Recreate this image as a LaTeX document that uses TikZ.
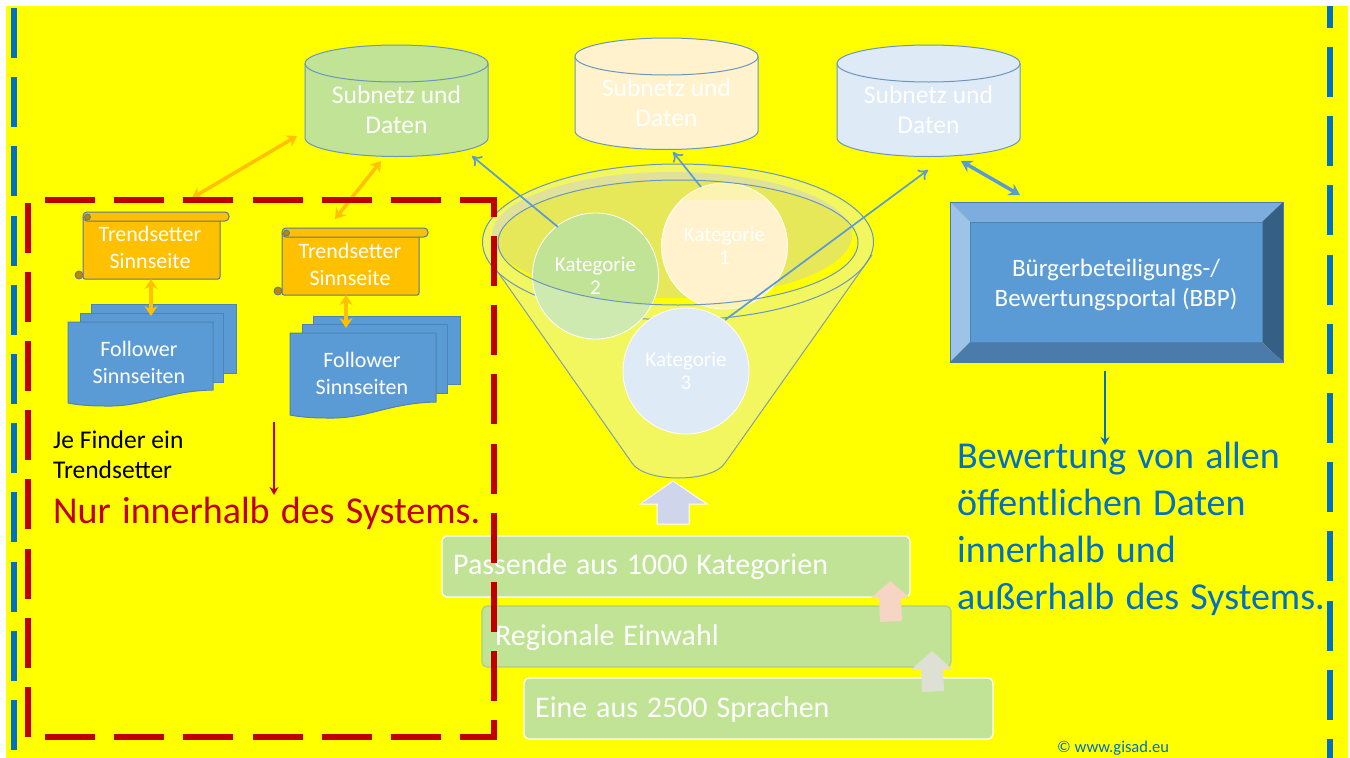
\documentclass[tikz,border=0pt]{standalone}
\usepackage{fontspec}
\setmainfont{Carlito}
\newfontfamily\widefont[WordSpace=1.9]{Carlito}
\newfontfamily\barfont[WordSpace=1.3]{Carlito}
\usetikzlibrary{arrows.meta}
\definecolor{bgyellow}{RGB}{255,255,0}
\definecolor{sky}{HTML}{5B9BD5}
\definecolor{deepblue}{HTML}{0070C0}
\definecolor{darkred}{HTML}{C00000}
\definecolor{amber}{HTML}{FFC000}
\definecolor{leaf}{HTML}{C0E396}
\definecolor{cream}{HTML}{FFF2CC}
\definecolor{ice}{HTML}{DEEAF6}
\definecolor{edge}{HTML}{6A96C0}
\definecolor{funnelfill}{HTML}{F3F75F}
\definecolor{funneledge}{HTML}{7F9FB0}
\definecolor{pooldark}{HTML}{E6E85A}
\definecolor{poolring}{HTML}{E0E29A}
\definecolor{lavender}{HTML}{CFD5EA}
\definecolor{blush}{HTML}{F6D5C5}
\definecolor{pale}{HTML}{DFE0D5}
\definecolor{bevtop}{HTML}{7CADDE}
\definecolor{bevleft}{HTML}{9DC3E6}
\definecolor{bevright}{HTML}{365F85}
\definecolor{bevbot}{HTML}{4A7BAB}
\definecolor{curl}{HTML}{B8860B}
\tikzset{
  x=1pt,y=-1pt,
  lbl/.style={text=white,align=center,inner sep=0pt},
  cyltext/.style={lbl,font=\fontsize{25.5}{30}\selectfont},
  pagetext/.style={lbl,font=\fontsize{22}{27}\selectfont},
  bluedash/.style={deepblue,line width=6pt,dash pattern=on 50pt off 19.2pt},
  reddash/.style={darkred,line width=6pt,dash pattern=on 50pt off 19.2pt,line join=miter},
  katnode/.style={circle,draw=white,line width=.8pt,minimum size=126pt,inner sep=0pt,text=white,align=center,font=\fontsize{21}{23}\selectfont},
  thinarrow/.style={sky,line width=1.7pt,-{To[length=9pt,width=13pt]}},
  orangearrow/.style={amber,line width=3.5pt,{Stealth[length=10pt,width=13pt]}-{Stealth[length=10pt,width=13pt]}},
  barbox/.style={fill=leaf,draw=white,line width=1.2pt,rounded corners=5pt},
  bartext/.style={text=white,anchor=west,inner sep=0pt,font=\barfont\fontsize{30}{32}\selectfont},
  scrollfill/.style={fill=amber,draw=edge!80!black,line width=1pt},
  docfill/.style={fill=sky,draw=sky!85!black,line width=1pt},
  bigblue/.style={text=deepblue,anchor=base west,inner sep=0pt,font=\widefont\fontsize{38}{39}\selectfont},
}
\newcommand{\cylshape}[4]{% left x, top y, colour, name
  \path[fill=#3,draw=edge,line width=1pt]
    (#1,#2+18.5) .. controls (#1,#2+8.3) and (#1+41,#2) .. (#1+91.5,#2)
    .. controls (#1+142,#2) and (#1+183,#2+8.3) .. (#1+183,#2+18.5)
    -- (#1+183,#2+93) .. controls (#1+183,#2+103) and (#1+142,#2+111.5) .. (#1+91.5,#2+111.5)
    .. controls (#1+41,#2+111.5) and (#1,#2+103) .. (#1,#2+93) -- cycle;
  \draw[edge,line width=1pt]
    (#1,#2+18.5) .. controls (#1,#2+28.7) and (#1+41,#2+37) .. (#1+91.5,#2+37)
    .. controls (#1+142,#2+37) and (#1+183,#2+28.7) .. (#1+183,#2+18.5);
  \node[cyltext] (#4) at (#1+91.5,#2+65) {Subnetz und\\Daten};
}
\newcommand{\scrollshape}[2]{% shift x,y
  \begin{scope}[shift={(#1,#2)}]
    \path[scrollfill,rounded corners=2pt] (83,216) -- (83,279) -- (220,279) -- (220,219) -- cycle;
    \path[scrollfill,rounded corners=4pt] (83,212) rectangle (229,221);
    \path[fill=curl,draw=edge!80!black,line width=.8pt] (87.5,217) circle [radius=3pt];
    \path[fill=curl,draw=edge!80!black,line width=.8pt] (79,275) circle [radius=4pt];
  \end{scope}
}
\begin{document}
\begin{tikzpicture}
\useasboundingbox (0,0) rectangle (1350,758);
\fill[white] (0,0) rectangle (1350,758);
\fill[bgyellow] (6,6) rectangle (1348,758);
% outer blue dashed lines
\coordinate (bl1) at (14,8); \coordinate (bl2) at (14,758);
\coordinate (br0) at (1330,6); \coordinate (br0e) at (1330,28);
\coordinate (br1) at (1330,47); \coordinate (br2) at (1330,758);
\draw[bluedash] (bl1) -- (bl2);
\draw[deepblue,line width=6pt] (br0) -- (br0e);
\draw[bluedash] (br1) -- (br2);
% cylinders
\cylshape{305}{45}{leaf}{cylA}
\cylshape{575}{38}{cream}{cylB}
\cylshape{837}{45}{ice}{cylC}
% funnel
\fill[funnelfill] (495,268) -- (632,463) .. controls (645,483) and (712,483) .. (725,463) -- (872,255) -- cycle;
\fill[funnelfill] (678,242) ellipse [x radius=195.5pt,y radius=78pt];
\draw[funneledge,line width=1pt] (495,268) -- (632,463) .. controls (645,483) and (712,483) .. (725,463) -- (872,255);
\draw[edge,line width=1pt] (678,242) ellipse [x radius=195.5pt,y radius=78pt];
\fill[bgyellow] (678,242.5) ellipse [x radius=180pt,y radius=62.5pt];
\fill[poolring] (672,235) ellipse [x radius=180pt,y radius=63pt];
\begin{scope}
  \clip (678,242.5) ellipse [x radius=180pt,y radius=62.5pt];
  \fill[pooldark] (672,235) ellipse [x radius=180pt,y radius=63pt];
\end{scope}
\node[katnode,fill=cream] (kat1) at (724.5,246) {Kategorie\\1};
\node[katnode,fill=leaf] (kat2) at (595.5,276) {Kategorie\\2};
\begin{scope}
  \clip (595.5,276) circle [radius=63pt];
  \fill[white,opacity=.25,even odd rule] (500,200) rectangle (700,360) (678,242.5) ellipse [x radius=180pt,y radius=62.5pt];
\end{scope}
\begin{scope}
  \clip (724.5,246) circle [radius=63pt];
  \fill[funnelfill,opacity=.25,even odd rule] (650,200) rectangle (800,320) (678,242.5) ellipse [x radius=180pt,y radius=62.5pt];
\end{scope}
\draw[edge,line width=1pt] (678,242.5) ellipse [x radius=180pt,y radius=62.5pt];
\node[katnode,fill=ice] (kat3) at (686,371) {Kategorie\\3};
% arrows from categories
\coordinate (a2s) at (558,227); \coordinate (a2e) at (472,156);
\coordinate (a1s) at (701,187); \coordinate (a1e) at (673,152);
\coordinate (a3s) at (725,320); \coordinate (a3e) at (928,170);
\draw[thinarrow] (a2s) -- (a2e);
\draw[thinarrow] (a1s) -- (a1e);
\draw[thinarrow] (a3s) -- (a3e);
% portal
\fill[bevleft] (950,202) -- (970,222) -- (970,342) -- (950,362) -- cycle;
\fill[bevtop] (950,202) -- (1283,202) -- (1262,222) -- (970,222) -- cycle;
\fill[bevright] (1283,202) -- (1283,362) -- (1262,342) -- (1262,222) -- cycle;
\fill[bevbot] (950,362) -- (970,342) -- (1262,342) -- (1283,362) -- cycle;
\draw[sky!80!black,line width=1pt] (950,202) rectangle (1283,362);
\draw[sky!85!black,fill=sky,line width=.8pt] (970,222) rectangle (1262,342);
\node[lbl,font=\fontsize{25}{30}\selectfont] (bbp) at (1116,285) {Bürgerbeteiligungs-/\\Bewertungsportal (BBP)};
\coordinate (pa) at (961,161); \coordinate (pb) at (1020,195);
\draw[sky,line width=3.5pt,{Stealth[length=11pt,width=13pt]}-{Stealth[length=11pt,width=13pt]}] (pa) -- (pb);
\coordinate (dn) at (1105,371); \coordinate (dne) at (1105,445);
\draw[deepblue,line width=2.2pt,-{Stealth[length=8pt,width=9pt]}] (dn) -- (dne);
\node[bigblue] (b1) at (957,468) {Bewertung von allen};
\node[bigblue] (b2) at (957,515.5) {öffentlichen Daten};
\node[bigblue] (b3) at (957,562.5) {innerhalb und};
\node[bigblue] (b4) at (957,609.5) {außerhalb des Systems.};
% scrolls
\scrollshape{0}{0}
\scrollshape{199}{16}
\node[pagetext] (ts1) at (150,247.5) {Trendsetter\\Sinnseite};
\node[pagetext] (ts2) at (350,264.5) {Trendsetter\\Sinnseite};
% documents group 1
\path[docfill] (91,304) rectangle (236,373);
\path[docfill] (80,313) rectangle (223,382);
\path[docfill] (68,322) -- (213,322) -- (213,390) .. controls (165,391) and (145,407) .. (105,406) .. controls (90,406) and (78,405) .. (68,403) -- cycle;
\node[pagetext] (fo1) at (139,362.5) {Follower\\Sinnseiten};
% documents group 2
\path[docfill] (313,316) rectangle (460,384);
\path[docfill] (302,324) rectangle (447,393);
\path[docfill] (290,333) -- (436,333) -- (436,402) .. controls (388,403) and (368,419) .. (327,418) .. controls (312,418) and (300,417) .. (290,415) -- cycle;
\node[pagetext] (fo2) at (362,373.5) {Follower\\Sinnseiten};
% orange arrows
\coordinate (o1a) at (192,198); \coordinate (o1b) at (297,136);
\coordinate (o2a) at (335,219); \coordinate (o2b) at (381,161);
\coordinate (o3a) at (151,279); \coordinate (o3b) at (151,316);
\coordinate (o4a) at (346,295); \coordinate (o4b) at (346,328);
\draw[orangearrow] (o1a) -- (o1b);
\draw[orangearrow] (o2a) -- (o2b);
\draw[orangearrow] (o3a) -- (o3b);
\draw[orangearrow] (o4a) -- (o4b);
% left texts
\node[anchor=base west,inner sep=0pt,font=\fontsize{25.5}{30}\selectfont] (jef) at (53,448) {Je Finder ein};
\node[anchor=base west,inner sep=0pt,font=\fontsize{25.5}{30}\selectfont] (jet) at (53,478) {Trendsetter};
\coordinate (ra) at (274,422); \coordinate (rb) at (274,495);
\draw[darkred,line width=2.2pt,-{Stealth[length=8pt,width=9pt]}] (ra) -- (rb);
\node[anchor=base west,inner sep=0pt,text=darkred,font=\widefont\fontsize{38}{39}\selectfont] (nur) at (53,523) {Nur innerhalb des Systems.};
% bars
\path[barbox] (442,536) rectangle (910,597);
\path[barbox,draw=leaf!90!black] (482,606) rectangle (951,667);
\path[barbox] (524,678) rectangle (993,739);
\node[bartext] (t1) at (453,567) {Passende aus 1000 Kategorien};
\node[bartext] (t2) at (495,638) {Regionale Einwahl};
\node[bartext] (t3) at (535,709) {Eine aus 2500 Sprachen};
% red dashed frame
\coordinate (f1) at (45,200); \coordinate (f2) at (493.5,200); \coordinate (f3) at (493.5,737); \coordinate (f4) at (45,737);
\coordinate (f5) at (28,737); \coordinate (f6) at (28,200);
\draw[reddash] (f1) -- (f2) -- (f3) -- (f4);
\draw[reddash] (f5) -- (f6);
% upward block arrows
\path[fill=lavender,draw=white,line width=1pt] (673,481) -- (707,504) -- (689,504) -- (689,524) -- (657,524) -- (657,504) -- (640,504) -- cycle;
\fill[blush] (890,581) -- (910,598) -- (901,598) -- (902,621) -- (880,622) -- (879,598) -- (871,598) -- cycle;
\fill[pale] (932,651) -- (952,669) -- (943,669) -- (944,691) -- (922,692) -- (921,669) -- (912,669) -- cycle;
% credit
\node[anchor=west,inner sep=0pt,text=deepblue,font=\fontsize{16.5}{18}\selectfont] (cr) at (1057,748.5) {© www.gisad.eu};
\end{tikzpicture}
\end{document}
